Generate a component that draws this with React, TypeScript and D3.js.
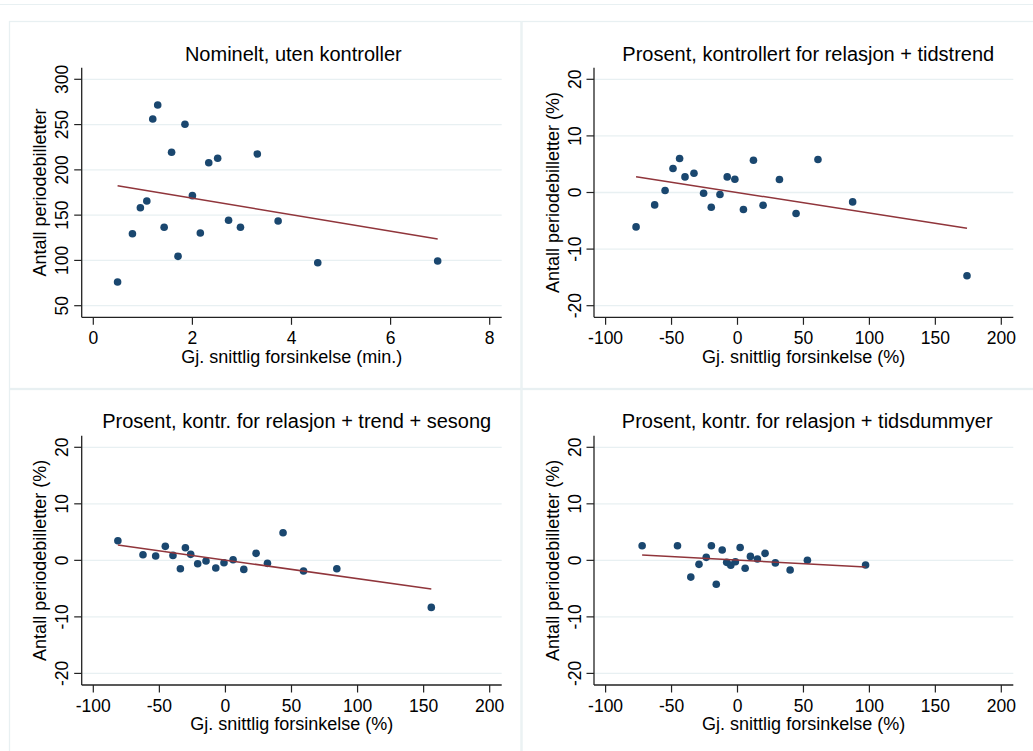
import React from 'react';
import * as d3 from 'd3';

// panel 1: nominal
const nomDelay = [0.49, 0.79, 0.95, 1.08, 1.2, 1.3, 1.43, 1.58, 1.71, 1.85, 2.0, 2.16, 2.33, 2.51, 2.73, 2.97, 3.31, 3.73, 4.53, 6.95];
const nomTickets = [76.2, 129.5, 158.2, 165.6, 256.2, 271.6, 136.6, 219.4, 104.5, 250.3, 171.5, 130.3, 207.9, 212.8, 144.3, 136.6, 217.5, 143.5, 97.5, 99.4];
const nomFit = [187.0, -9.12]; // intercept, slope

// panel 2: relasjon + tidstrend
const trendDelay = [-76.9, -62.8, -54.9, -48.9, -43.9, -39.8, -33.0, -25.7, -19.9, -13.3, -7.8, -2.0, 4.5, 12.1, 19.4, 31.8, 44.4, 61.0, 87.3, 174.0];
const trendTickets = [-6.08, -2.19, 0.35, 4.24, 6.01, 2.76, 3.41, -0.12, -2.6, -0.35, 2.76, 2.35, -3.0, 5.71, -2.24, 2.3, -3.71, 5.83, -1.66, -14.7];
const trendFit = [0.0, -0.0364];

// panel 3: relasjon + trend + sesong
const seasDelay = [-81.4, -62.4, -52.8, -45.5, -39.7, -34.1, -30.3, -26.3, -21.0, -14.7, -7.3, -1.1, 5.8, 13.9, 23.2, 31.8, 43.6, 59.1, 84.3, 155.8];
const seasTickets = [3.47, 0.99, 0.76, 2.48, 0.88, -1.49, 2.23, 1.06, -0.6, -0.12, -1.36, -0.42, 0.11, -1.6, 1.24, -0.53, 4.88, -1.89, -1.49, -8.32];
const seasFit = [0.04, -0.0328];

// panel 4: relasjon + tidsdummyer
const dumDelay = [-72.3, -45.5, -35.4, -29.2, -23.7, -19.8, -16.1, -11.6, -8.2, -5.1, -1.6, 2.0, 5.8, 9.8, 15.1, 20.9, 28.7, 39.9, 53.0, 97.1];
const dumTickets = [2.58, 2.58, -2.96, -0.71, 0.53, 2.58, -4.22, 1.82, -0.35, -0.85, -0.25, 2.27, -1.39, 0.7, 0.23, 1.24, -0.45, -1.72, 0.02, -0.83];
const dumFit = [0.03, -0.01257];

const nomXTicks = [0, 2, 4, 6, 8];
const nomYTicks = [50, 100, 150, 200, 250, 300];
const pctXTicks = [-100, -50, 0, 50, 100, 150, 200];
const pctYTicks = [-20, -10, 0, 10, 20];

const FONT = '"Liberation Sans", Arial, Helvetica, sans-serif';
const NAVY = '#1a476f';
const MAROON = '#90353b';
const GRID = '#e8f0f2';

const Panel = ({ box, titleX, titleY, title, xs, ys, fit, xTicks, yTicks, xLabel, yLabel }) => {
  const x = d3.scaleLinear()
    .domain([xTicks[0], xTicks[xTicks.length - 1]])
    .range([box.left + 11.6, box.right - 12]);
  const y = d3.scaleLinear()
    .domain([yTicks[0], yTicks[yTicks.length - 1]])
    .range([box.bottom - 11.6, box.top + 11.6]);
  const [x0, x1] = d3.extent(xs);
  const line = d3.line().x(d => x(d[0])).y(d => y(d[1]));
  const fitPts = [x0, x1].map(v => [v, fit[0] + fit[1] * v]);

  return (
    <g>
      <text x={titleX} y={titleY} textAnchor="middle" fontSize={20} fill="#000">{title}</text>
      {yTicks.map(t => (
        <line key={'g' + t} x1={box.left} x2={box.right} y1={y(t)} y2={y(t)} stroke={GRID} strokeWidth={1.3} />
      ))}
      <line x1={box.left} x2={box.left} y1={box.top} y2={box.bottom} stroke="#222" strokeWidth={1.3} />
      <line x1={box.left} x2={box.right} y1={box.bottom} y2={box.bottom} stroke="#222" strokeWidth={1.3} />
      {yTicks.map(t => (
        <g key={'y' + t}>
          <line x1={box.left - 7.5} x2={box.left} y1={y(t)} y2={y(t)} stroke="#222" strokeWidth={1.2} />
          <text transform={`translate(${box.left - 13.5},${y(t)}) rotate(-90)`} textAnchor="middle" fontSize={17.5} fill="#000">{t}</text>
        </g>
      ))}
      {xTicks.map(t => (
        <g key={'x' + t}>
          <line x1={x(t)} x2={x(t)} y1={box.bottom} y2={box.bottom + 7.5} stroke="#222" strokeWidth={1.2} />
          <text x={x(t)} y={box.bottom + 26.8} textAnchor="middle" fontSize={17.5} fill="#000">{t}</text>
        </g>
      ))}
      <text x={(box.left + box.right) / 2} y={box.bottom + 45.3} textAnchor="middle" fontSize={18} fill="#000">{xLabel}</text>
      <text transform={`translate(${box.left - 35.5},${(box.top + box.bottom) / 2}) rotate(-90)`} textAnchor="middle" fontSize={18} fill="#000">{yLabel}</text>
      {xs.map((v, i) => (
        <circle key={i} cx={x(v)} cy={y(ys[i])} r={3.8} fill={NAVY} />
      ))}
      <path d={line(fitPts)} stroke={MAROON} strokeWidth={1.5} fill="none" />
    </g>
  );
};

const App = () => {
  const width = 1033, height = 751;
  const pctX = 'Gj. snittlig forsinkelse (%)';
  const pctY = 'Antall periodebilletter (%)';
  return (
    <svg width={width} height={height} style={{ position: 'absolute', left: 0, top: 0, background: '#fff' }} fontFamily={FONT}>
      <line x1={0} x2={width} y1={4.5} y2={4.5} stroke={GRID} strokeWidth={1.2} />
      <rect x={9.5} y={21.5} width={511.5} height={367} fill="none" stroke={GRID} strokeWidth={1.3} />
      <rect x={522} y={21.5} width={520} height={367} fill="none" stroke={GRID} strokeWidth={1.3} />
      <rect x={9.5} y={389.5} width={511.5} height={370} fill="none" stroke={GRID} strokeWidth={1.3} />
      <rect x={522} y={389.5} width={520} height={370} fill="none" stroke={GRID} strokeWidth={1.3} />
      <Panel box={{ left: 81.7, right: 501.7, top: 67.7, bottom: 317.3 }} titleX={293.3} titleY={61}
        title="Nominelt, uten kontroller" xs={nomDelay} ys={nomTickets} fit={nomFit}
        xTicks={nomXTicks} yTicks={nomYTicks} xLabel="Gj. snittlig forsinkelse (min.)" yLabel="Antall periodebilletter" />
      <Panel box={{ left: 594, right: 1013.3, top: 67.7, bottom: 317.3 }} titleX={808.3} titleY={61}
        title="Prosent, kontrollert for relasjon + tidstrend" xs={trendDelay} ys={trendTickets} fit={trendFit}
        xTicks={pctXTicks} yTicks={pctYTicks} xLabel={pctX} yLabel={pctY} />
      <Panel box={{ left: 81.7, right: 501.7, top: 435.7, bottom: 685 }} titleX={296.7} titleY={428}
        title="Prosent, kontr. for relasjon + trend + sesong" xs={seasDelay} ys={seasTickets} fit={seasFit}
        xTicks={pctXTicks} yTicks={pctYTicks} xLabel={pctX} yLabel={pctY} />
      <Panel box={{ left: 594, right: 1013.3, top: 435.7, bottom: 685 }} titleX={807.2} titleY={428}
        title="Prosent, kontr. for relasjon + tidsdummyer" xs={dumDelay} ys={dumTickets} fit={dumFit}
        xTicks={pctXTicks} yTicks={pctYTicks} xLabel={pctX} yLabel={pctY} />
    </svg>
  );
};

export default App;
